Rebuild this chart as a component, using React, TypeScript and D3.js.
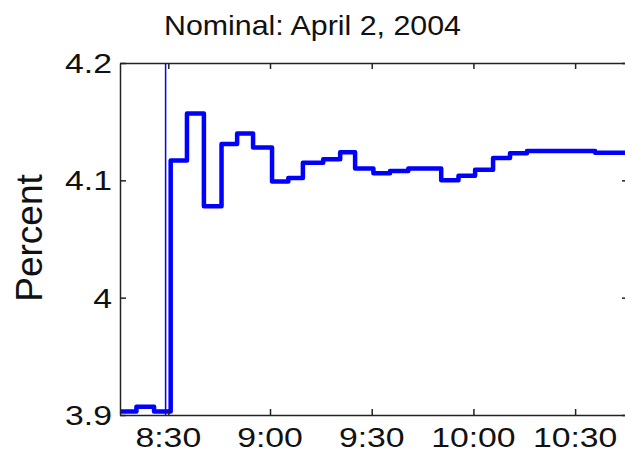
import { useEffect, useRef } from "react";
import * as d3 from "d3";

// minutes after 8:00 where each level starts (step series)
const stepTimes = [
  15.75, 20.6, 25.8, 30.7, 35.5, 40.5, 45.7, 50.3, 55.0, 60.6, 65.4, 69.7,
  75.7, 80.7, 85.1, 90.5, 95.4, 100.8, 110.5, 115.6, 120.5, 125.8, 130.8,
  135.8, 155.9, 165.6,
];
const yieldValues = [
  3.903, 3.907, 3.903, 4.117, 4.157, 4.078, 4.131, 4.14, 4.128, 4.099, 4.102,
  4.115, 4.118, 4.124, 4.11, 4.106, 4.108, 4.11, 4.1, 4.104, 4.109, 4.119,
  4.123, 4.125, 4.1235, 4.1235,
];

const releaseTime = 29.2; // data release marker
const xTickValues = [30, 60, 90, 120, 150];
const xTickLabels = ["8:30", "9:00", "9:30", "10:00", "10:30"];
const yTickValues = [3.9, 4.0, 4.1, 4.2];
const yTickLabels = ["3.9", "4", "4.1", "4.2"];
const title = "Nominal: April 2, 2004";
const yLabel = "Percent";

export default function App() {
  const ref = useRef<SVGSVGElement>(null);

  useEffect(() => {
    if (!ref.current) return;
    const W = 625;
    const H = 456;
    const left = 120;
    const right = 628;
    const top = 63;
    const bottom = 415;
    const font = "'Liberation Sans', Arial, Helvetica, sans-serif";

    const svg = d3.select(ref.current);
    svg.selectAll("*").remove();
    svg.attr("width", W).attr("height", H);

    svg.append("rect").attr("width", W).attr("height", H).attr("fill", "#fff");

    const x = d3.scaleLinear().domain([15.75, 165.6]).range([left, right]);
    const y = d3.scaleLinear().domain([3.9, 4.2]).range([bottom, top]);

    const data = stepTimes.map((t, i) => ({ t, v: yieldValues[i] }));

    svg
      .append("defs")
      .append("clipPath")
      .attr("id", "plotClip")
      .append("rect")
      .attr("x", left)
      .attr("y", top)
      .attr("width", right - left)
      .attr("height", bottom - top);

    // release marker
    svg
      .append("line")
      .attr("x1", x(releaseTime))
      .attr("x2", x(releaseTime))
      .attr("y1", top)
      .attr("y2", bottom)
      .attr("stroke", "#0000ff")
      .attr("stroke-width", 1.5);

    const line = d3
      .line<{ t: number; v: number }>()
      .x((d) => x(d.t))
      .y((d) => y(d.v))
      .curve(d3.curveStepAfter);

    svg
      .append("path")
      .datum(data)
      .attr("clip-path", "url(#plotClip)")
      .attr("d", line)
      .attr("fill", "none")
      .attr("stroke", "#0000ff")
      .attr("stroke-width", 4.5)
      .attr("stroke-linejoin", "round");

    const axisColor = "#222";
    const tick = 6;

    // axes with inward ticks
    const gB = svg.append("g").attr("transform", `translate(0,${bottom})`);
    gB.call(d3.axisBottom(x).tickValues(xTickValues).tickSizeInner(-tick).tickSizeOuter(0).tickFormat(() => ""));
    const gT = svg.append("g").attr("transform", `translate(0,${top})`);
    gT.call(d3.axisTop(x).tickValues(xTickValues).tickSizeInner(-tick).tickSizeOuter(0).tickFormat(() => ""));
    const gL = svg.append("g").attr("transform", `translate(${left},0)`);
    gL.call(d3.axisLeft(y).tickValues(yTickValues).tickSizeInner(-tick).tickSizeOuter(0).tickFormat(() => ""));
    const gR = svg.append("g").attr("transform", `translate(${right},0)`);
    gR.call(d3.axisRight(y).tickValues(yTickValues).tickSizeInner(-tick).tickSizeOuter(0).tickFormat(() => ""));

    [gB, gT, gL, gR].forEach((g) => {
      g.selectAll("path, line").attr("stroke", axisColor).attr("stroke-width", 1.5);
    });

    // tick labels
    svg
      .append("g")
      .selectAll("text")
      .data(xTickValues)
      .enter()
      .append("text")
      .attr("transform", (d) => `translate(${x(d)},447) scale(1.25,1)`)
      .attr("text-anchor", "middle")
      .style("font-family", font)
      .style("font-size", "27px")
      .style("fill", "#111")
      .text((d, i) => xTickLabels[i]);

    svg
      .append("g")
      .selectAll("text")
      .data(yTickValues)
      .enter()
      .append("text")
      .attr("transform", (d) => `translate(112,${y(d) + 10}) scale(1.25,1)`)
      .attr("text-anchor", "end")
      .style("font-family", font)
      .style("font-size", "27px")
      .style("fill", "#111")
      .text((d, i) => yTickLabels[i]);

    // title
    svg
      .append("text")
      .attr("transform", "translate(312.5,35) scale(1.125,1)")
      .attr("text-anchor", "middle")
      .style("font-family", font)
      .style("font-size", "27px")
      .style("fill", "#111")
      .text(title);

    // y label
    svg
      .append("text")
      .attr("transform", "translate(42,238) rotate(-90)")
      .attr("text-anchor", "middle")
      .style("font-family", font)
      .style("font-size", "37px")
      .style("fill", "#111")
      .text(yLabel);
  }, []);

  return <svg ref={ref} style={{ position: "absolute", left: 0, top: 0, display: "block" }} />;
}
